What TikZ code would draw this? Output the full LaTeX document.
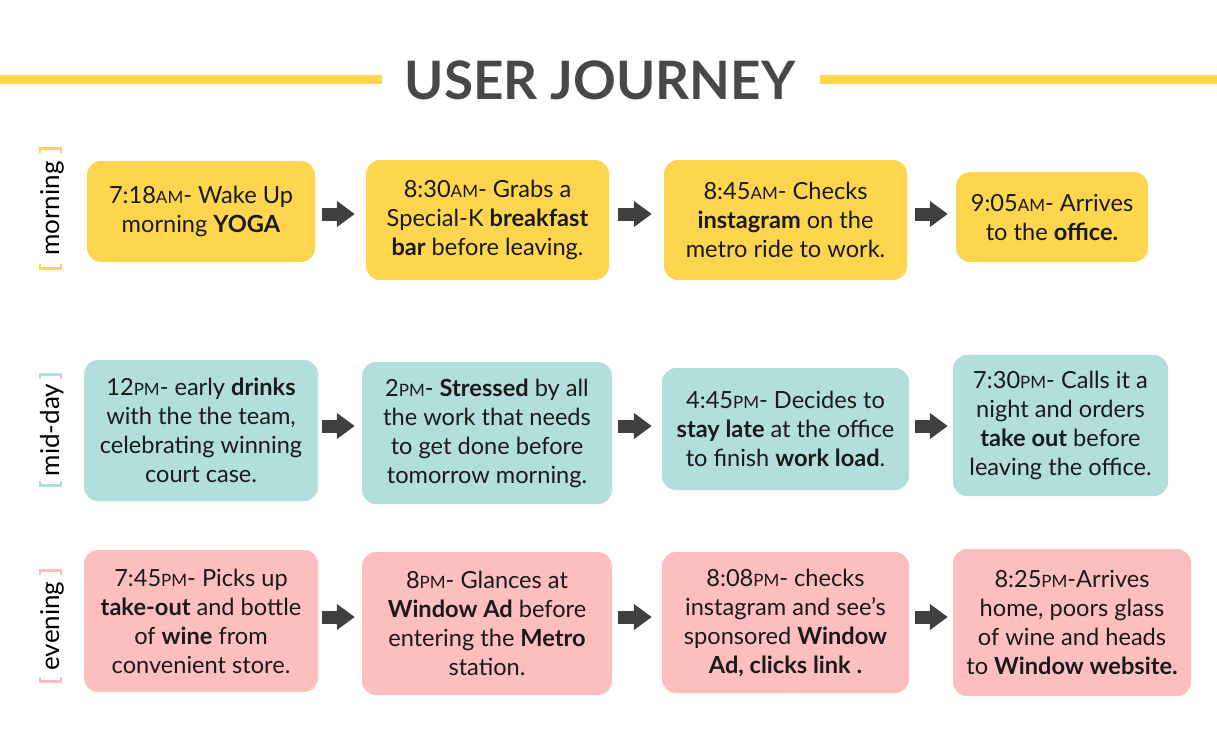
\documentclass[tikz,border=0pt]{standalone}
\usepackage{fontspec}
\setmainfont{Lato}
\usetikzlibrary{arrows.meta}
\definecolor{yel}{HTML}{FDD54F}
\definecolor{teal}{HTML}{B2DFDB}
\definecolor{pink}{HTML}{FDBEC0}
\definecolor{titlegray}{HTML}{484848}
\definecolor{arrowgray}{HTML}{404040}
\definecolor{txt}{HTML}{1A1A1A}
\newcommand\smc[1]{{\fontsize{17}{17}\selectfont #1}}
\tikzset{
  box/.style={rounded corners=14pt, align=center, inner sep=0pt, text=txt,
    font=\fontsize{23.6}{29}\selectfont},
  barrow/.style={draw=arrowgray, line width=13pt,
    -{Triangle[length=18pt,width=25pt]}},
  sidelabel/.style={rotate=90, font=\fontsize{26}{26}\selectfont, text=black, inner sep=0pt},
  bracket/.style={line width=2.6pt},
  titleline/.style={draw=yel, line width=9pt}
}
\begin{document}
\begin{tikzpicture}[x=1pt,y=-1pt]
\useasboundingbox (0,0) rectangle (1217,748);

% title
\node[font=\fontsize{53}{53}\selectfont\bfseries, text=titlegray, inner sep=0pt] (title) at (600,80) {USER JOURNEY};
\coordinate (tl0) at (0,79);
\coordinate (tr1) at (1217,79);
\draw[titleline] (tl0) -- (382,79);
\draw[titleline] (820,79) -- (tr1);

% side labels
\node[sidelabel] (lmorning) at (52,208.5) {morning};
\node[sidelabel] (lmidday) at (52,430) {mid-day};
\node[sidelabel] (levening) at (52,626) {evening};
\draw[bracket, yel] (40,153) -- (40,148.5) -- (61,148.5) -- (61,153);
\draw[bracket, yel] (40,264) -- (40,268.5) -- (61,268.5) -- (61,264);
\draw[bracket, teal] (40,379) -- (40,374.5) -- (61,374.5) -- (61,379);
\draw[bracket, teal] (40,481) -- (40,485.5) -- (61,485.5) -- (61,481);
\draw[bracket, pink] (40,575) -- (40,570.5) -- (61,570.5) -- (61,575);
\draw[bracket, pink] (40,677) -- (40,681.5) -- (61,681.5) -- (61,677);

% row 1
\node[box, fill=yel, minimum width=228pt, minimum height=101pt] (m1) at (201,211.5)
  {7:18\smc{AM}- Wake Up\\morning \textbf{YOGA}};
\node[box, fill=yel, minimum width=243pt, minimum height=120pt] (m2) at (487.5,220)
  {8:30\smc{AM}- Grabs a\\Special-K \textbf{breakfast}\\\textbf{bar} before leaving.};
\node[box, fill=yel, minimum width=243pt, minimum height=120pt] (m3) at (785.5,220)
  {8:45\smc{AM}- Checks\\\textbf{instagram} on the\\metro ride to work.};
\node[box, fill=yel, minimum width=192pt, minimum height=90pt] (m4) at (1052,217)
  {9:05\smc{AM}- Arrives\\to the \textbf{office.}};

% row 2
\node[box, fill=teal, minimum width=234pt, minimum height=141pt] (m5) at (201,430.5)
  {12\smc{PM}- early \textbf{drinks}\\with the the team,\\celebrating winning\\court case.};
\node[box, fill=teal, minimum width=250pt, minimum height=142pt] (m6) at (487,433)
  {2\smc{PM}- \textbf{Stressed} by all\\the work that needs\\to get done before\\tomorrow morning.};
\node[box, fill=teal, minimum width=247pt, minimum height=122pt] (m7) at (785.5,429)
  {4:45\smc{PM}- Decides to\\\textbf{stay late} at the office\\to finish \textbf{work load}.};
\node[box, fill=teal, minimum width=215pt, minimum height=141pt] (m8) at (1060.5,425.5)
  {7:30\smc{PM}- Calls it a\\night and orders\\\textbf{take out} before\\leaving the office.};

% row 3
\node[box, fill=pink, minimum width=234pt, minimum height=142pt] (m9) at (201,621)
  {7:45\smc{PM}- Picks up\\\textbf{take-out} and bottle\\of \textbf{wine} from\\convenient store.};
\node[box, fill=pink, minimum width=250pt, minimum height=143pt] (m10) at (487,623.5)
  {8\smc{PM}- Glances at\\\textbf{Window Ad} before\\entering the \textbf{Metro}\\station.};
\node[box, fill=pink, minimum width=247pt, minimum height=141pt] (m11) at (785.5,622.5)
  {8:08\smc{PM}- checks\\instagram and see’s\\sponsored \textbf{Window}\\\textbf{Ad, clicks link .}};
\node[box, fill=pink, minimum width=238pt, minimum height=147pt] (m12) at (1072,622.5)
  {8:25\smc{PM}-Arrives\\home, poors glass\\of wine and heads\\to \textbf{Window website.}};

% row reference coordinates
\coordinate (r1) at (0,214);
\coordinate (r2) at (0,426);
\coordinate (r3) at (0,617);

% arrows
\draw[barrow, shorten <=7pt, shorten >=11pt] (m1.east |- r1) -- (m2.west |- r1);
\draw[barrow, shorten <=9pt, shorten >=12pt] (m2.east |- r1) -- (m3.west |- r1);
\draw[barrow, shorten <=8pt, shorten >=8pt] (m3.east |- r1) -- (m4.west |- r1);

\draw[barrow, shorten <=4pt, shorten >=7pt] (m5.east |- r2) -- (m6.west |- r2);
\draw[barrow, shorten <=6pt, shorten >=10pt] (m6.east |- r2) -- (m7.west |- r2);
\draw[barrow, shorten <=6pt, shorten >=5pt] (m7.east |- r2) -- (m8.west |- r2);

\draw[barrow, shorten <=4pt, shorten >=7pt] (m9.east |- r3) -- (m10.west |- r3);
\draw[barrow, shorten <=6pt, shorten >=10pt] (m10.east |- r3) -- (m11.west |- r3);
\draw[barrow, shorten <=6pt, shorten >=5pt] (m11.east |- r3) -- (m12.west |- r3);
\end{tikzpicture}
\end{document}
